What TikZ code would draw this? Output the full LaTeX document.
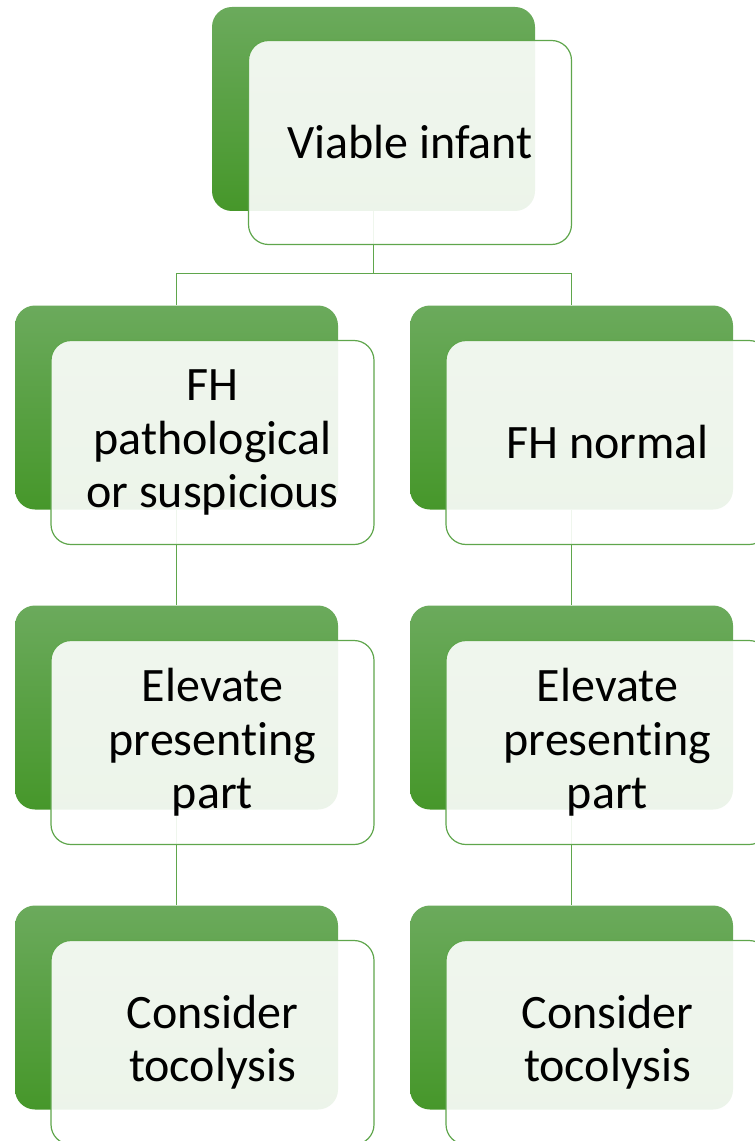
\documentclass[tikz,border=0pt]{standalone}
\usepackage{fontspec}
\setmainfont{Carlito}[Ligatures=NoCommon]
\definecolor{leafgreen}{HTML}{6BAA5C}
\definecolor{deepgreen}{HTML}{46972A}
\definecolor{rimgreen}{HTML}{5FA64C}
\tikzset{
  back/.style={rounded corners=15pt, top color=leafgreen, bottom color=deepgreen,
    draw=none, minimum width=242.25pt, minimum height=153pt, inner sep=0pt},
  card/.style={rounded corners=15pt, draw=rimgreen, line width=0.9pt, fill=white,
    fill opacity=0.9, text opacity=1, minimum width=242.25pt, minimum height=153pt,
    inner sep=0pt, align=center, font=\fontsize{36}{40}\selectfont},
  link/.style={draw=rimgreen, line width=1pt}
}
\begin{document}
\begin{tikzpicture}[x=0.75pt, y=-0.75pt]
                \useasboundingbox (0,0) rectangle (755,1141);
                \clip (0,0) rectangle (755,1141);
                % green backs
                \node[back] (viable) at (373.5, 109) {};
                \node[back] (fhpath) at (176.5, 407.5) {};
                \node[back] (fhnorm) at (571.5, 407.5) {};
                \node[back] (elevl) at (176.5, 707.5) {};
                \node[back] (elevr) at (571.5, 707.5) {};
                \node[back] (tocol) at (176.5, 1007.5) {};
                \node[back] (tocor) at (571.5, 1007.5) {};
                % links
                \draw[link] (viable.south) -- ++(0, 62) -| (fhpath.north);
                \draw[link] (viable.south) -- ++(0, 62) -| (fhnorm.north);
                \draw[link] (fhpath.south) -- (elevl.north);
                \draw[link] (fhnorm.south) -- (elevr.north);
                \draw[link] (elevl.south) -- (tocol.north);
                \draw[link] (elevr.south) -- (tocor.north);
                % cards
                \node[card] (viablet) at (410, 142.5) {Viable infant};
                \node[card] (fhpatht) at (212.5, 442.5) {FH\\pathological\\or suspicious};
                \node[card] (fhnormt) at (607.5, 442.5) {FH normal};
                \node[card] (elevlt) at (212.5, 742.5) {Elevate\\presenting\\part};
                \node[card] (elevrt) at (607.5, 742.5) {Elevate\\presenting\\part};
                \node[card] (tocolt) at (212.5, 1042.5) {Consider\\tocolysis};
                \node[card] (tocort) at (607.5, 1042.5) {Consider\\tocolysis};
            \end{tikzpicture}
\end{document}
